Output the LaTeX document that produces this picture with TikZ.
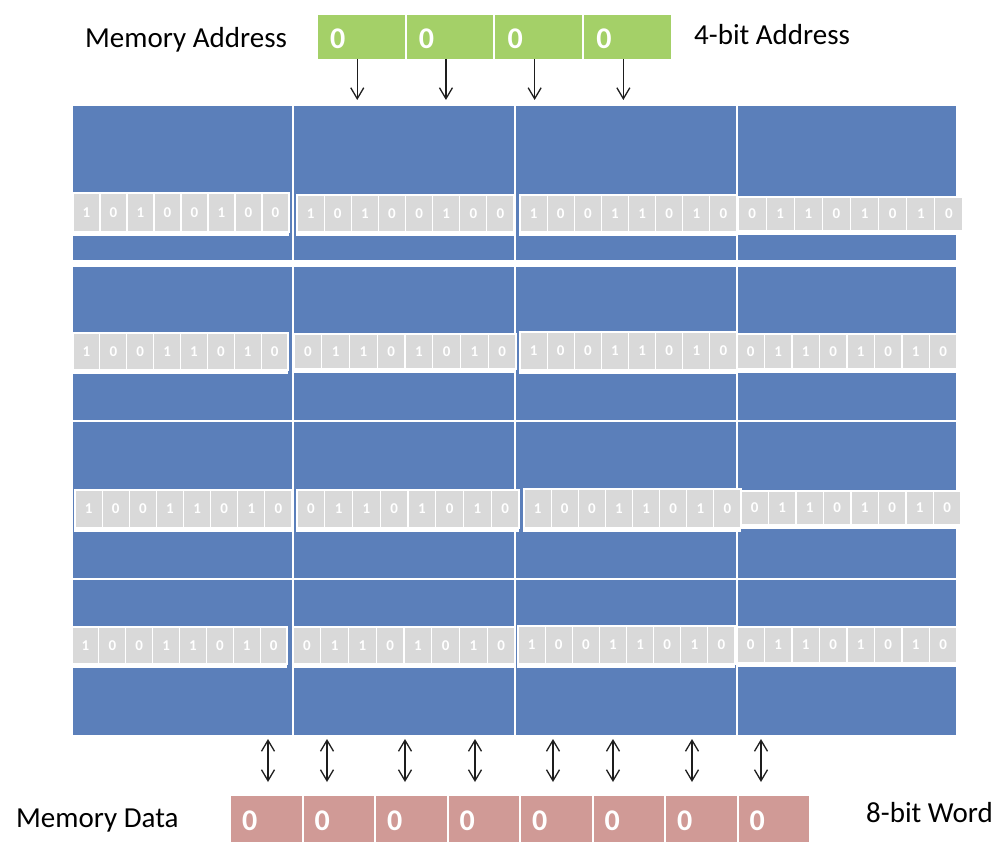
\documentclass[tikz,border=0pt]{standalone}
\usepackage{fontspec}
\setmainfont{Carlito}
\usetikzlibrary{arrows.meta}
\definecolor{memblue}{RGB}{91,127,186}
\definecolor{addrgreen}{RGB}{164,208,104}
\definecolor{datapink}{RGB}{208,154,150}
\definecolor{bitgray}{RGB}{217,217,217}
\definecolor{arrowink}{RGB}{30,30,30}
\begin{document}
\begin{tikzpicture}[x=1pt,y=-1pt,
  blockcell/.style={draw=white, line width=1.5pt, fill=memblue, inner sep=0pt, outer sep=0pt, anchor=north west},
  stripback/.style={fill=white, draw=none, inner sep=0pt, outer sep=0pt, anchor=north west},
  bitcell/.style={draw=white, line width=1.2pt, fill=bitgray, text=white, inner sep=0pt, outer sep=0pt, anchor=north west, font=\fontsize{15pt}{17pt}\selectfont\bfseries},
  addrbox/.style={fill=addrgreen, draw=none, inner sep=0pt, outer sep=0pt, anchor=north west, minimum width=86.5pt, minimum height=44pt},
  databox/.style={fill=datapink, draw=none, inner sep=0pt, outer sep=0pt, anchor=north west, minimum width=70.5pt, minimum height=46pt},
  bigdigit/.style={text=white, inner sep=0pt, anchor=west, font=\fontsize{30pt}{34pt}\selectfont\bfseries},
  caption/.style={text=black, inner sep=0pt, anchor=base west, font=\fontsize{29pt}{34pt}\selectfont},
  downarrow/.style={draw=arrowink, line width=1.3pt, -{Straight Barb[length=11pt,width=13pt]}},
  dblarrow/.style={draw=arrowink, line width=1.3pt, {Straight Barb[length=11pt,width=13pt]}-{Straight Barb[length=11pt,width=13pt]}}
]
\useasboundingbox (0,0) rectangle (1002,864);

% memory blocks
\foreach \r/\ya/\yb in {1/105/261, 2/266/421, 3/421/579, 4/579/736}
  \foreach \c/\xa/\xb in {1/72/293, 2/293/515, 3/515/737, 4/737/957} {
    \pgfmathsetmacro\bw{\xb-\xa}
    \pgfmathsetmacro\bh{\yb-\ya}
    \node[blockcell, minimum width=\bw pt, minimum height=\bh pt] (blk\r\c) at (\xa,\ya) {};
  }

% words stored in the blocks
\foreach \r/\c/\xa/\ya/\xb/\yb/\bits in {
  1/1/73/193/289/232/{1,0,1,0,0,1,0,0},
  1/2/297/195/514/232/{1,0,1,0,0,1,0,0},
  1/3/520/195/737/232/{1,0,0,1,1,0,1,0},
  1/4/738/197/963/231/{0,1,1,0,1,0,1,0},
  2/1/73/333/288/370/{1,0,0,1,1,0,1,0},
  2/2/294/334/516/369/{0,1,1,0,1,0,1,0},
  2/3/520/332/737/370/{1,0,0,1,1,0,1,0},
  2/4/737/334/957/369/{0,1,1,0,1,0,1,0},
  3/1/75/490/292/528/{1,0,0,1,1,0,1,0},
  3/2/297/490/519/528/{0,1,1,0,1,0,1,0},
  3/3/524/489/741/528/{1,0,0,1,1,0,1,0},
  3/4/741/491/961/525/{0,1,1,0,1,0,1,0},
  4/1/72/627/287/664/{1,0,0,1,1,0,1,0},
  4/2/293/627/515/664/{0,1,1,0,1,0,1,0},
  4/3/518/626/735/664/{1,0,0,1,1,0,1,0},
  4/4/737/627/957/663/{0,1,1,0,1,0,1,0}} {
    \pgfmathsetmacro\sw{\xb-\xa+1}
    \pgfmathsetmacro\sh{\yb-\ya+5}
    \node[stripback, minimum width=\sw pt, minimum height=\sh pt] (strip\r\c) at (\xa-1,\ya-1) {};
    \pgfmathsetmacro\cw{(\xb-\xa)/8}
    \pgfmathsetmacro\ch{\yb-\ya}
    \foreach \b [count=\i] in \bits {
      \node[bitcell, minimum width=\cw pt, minimum height=\ch pt] (bit\r\c-\i) at ({\xa+(\i-1)*\cw},\ya) {\b};
    }
  }

% address register
\foreach \i in {1,...,4} {
  \node[addrbox] (a\i) at ({318+(\i-1)*88.7},15) {};
  \node[bigdigit] (a\i txt) at ([xshift=12pt,yshift=-2pt]a\i.west) {0};
  \draw[downarrow] ([xshift=-4pt]a\i.south) -- ([xshift=-4pt,yshift=5pt]a\i.south |- blk12.north);
}

% data register
\foreach \i in {1,...,8} {
  \node[databox] (d\i) at ({231+(\i-1)*72.5},796) {};
  \node[bigdigit] (d\i txt) at ([xshift=11pt,yshift=-2pt]d\i.west) {0};
}
\foreach \i/\xx in {1/268, 2/327, 3/405, 4/475, 5/553, 6/613, 7/692, 8/761} {
  \coordinate (du\i) at (\xx,739);
  \coordinate (dl\i) at (\xx,782);
  \draw[dblarrow] (du\i) -- (dl\i);
}

% captions
\node[caption] (lblma) at (85,48) {Memory Address};
\node[caption] (lbl4b) at (694,45) {4-bit Address};
\node[caption] (lblmd) at (16,827) {Memory Data};
\node[caption] (lbl8b) at (866,822) {8-bit Word};
\end{tikzpicture}
\end{document}
